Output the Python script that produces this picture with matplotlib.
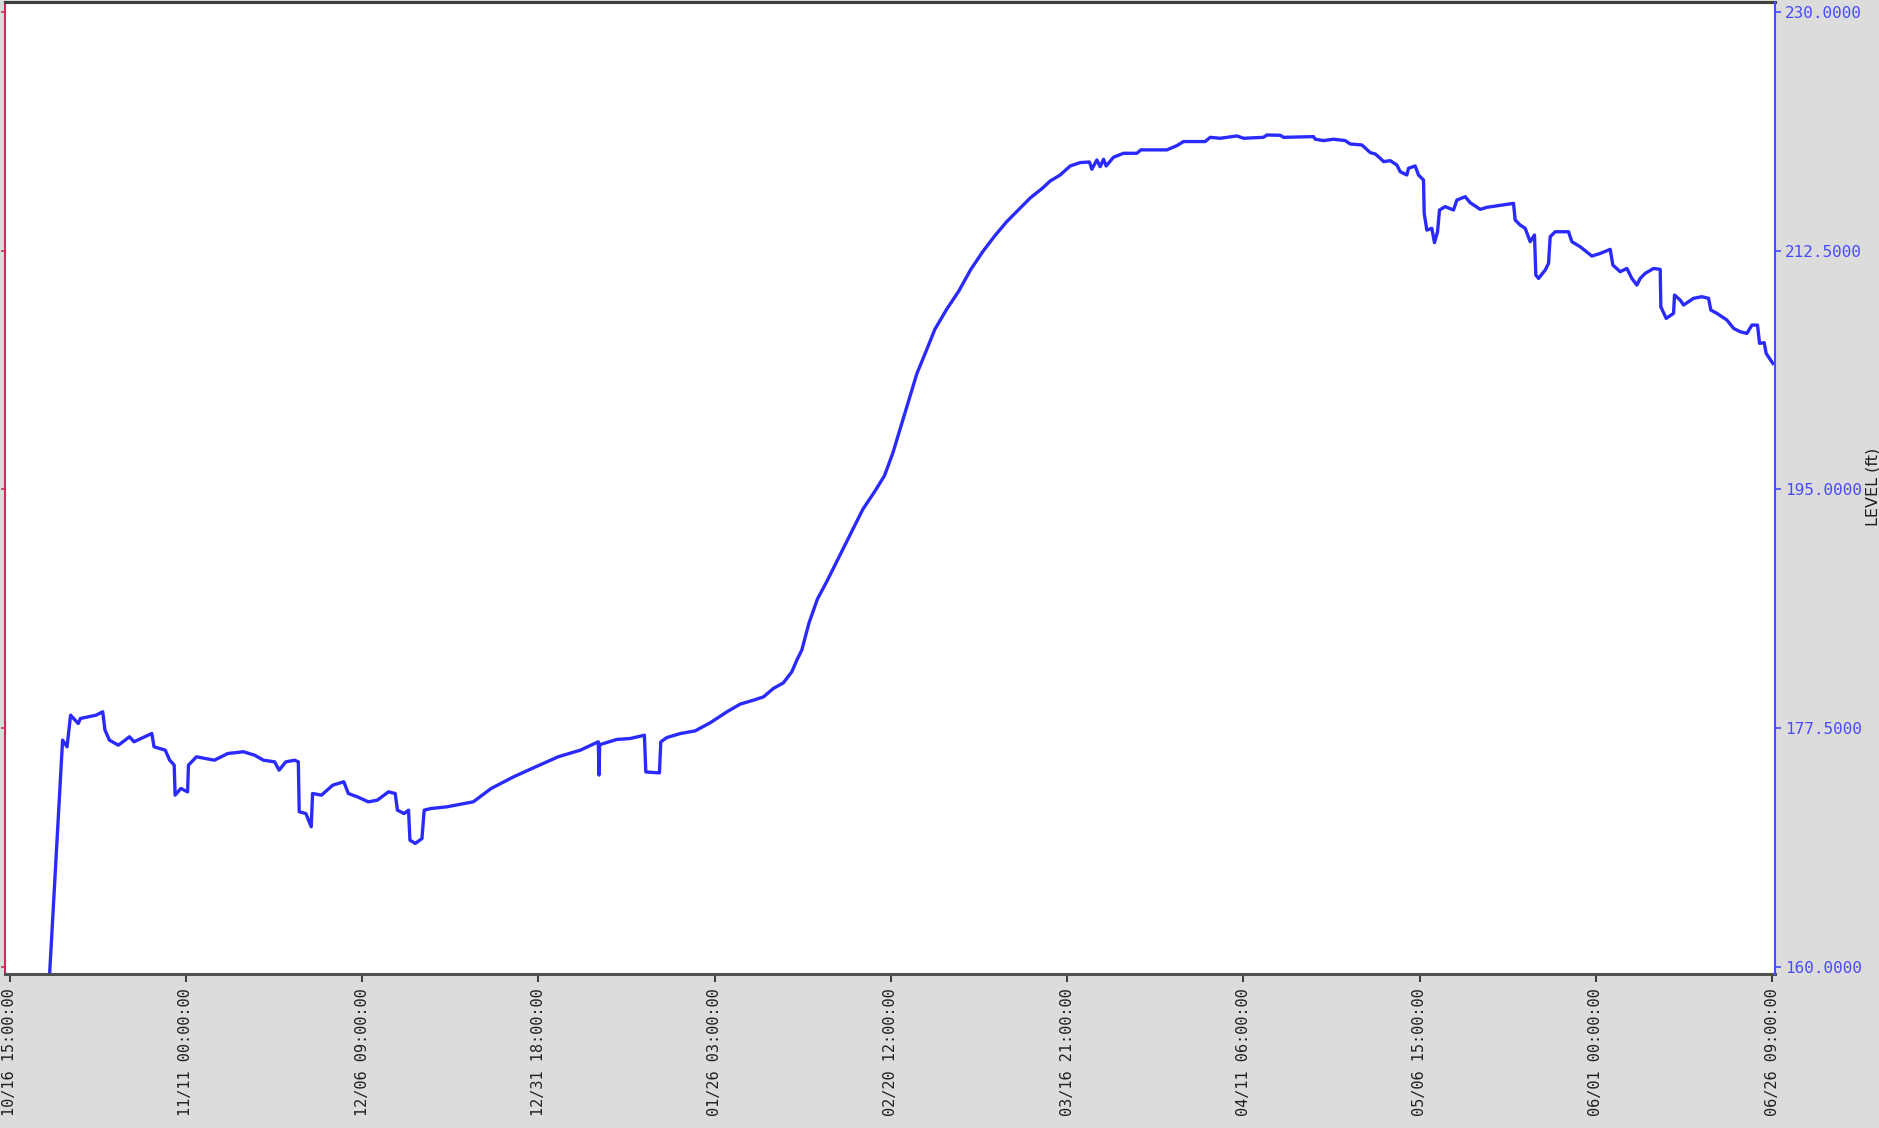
import pandas as pd
import matplotlib
matplotlib.use('Agg')
import matplotlib.pyplot as plt
import matplotlib.dates as mdates

# water level record, days counted from 10/16 15:00
start = pd.Timestamp('2019-10-16 15:00')
days = [5.70, 7.62, 8.26, 8.77, 9.87, 10.19, 12.44, 13.40, 13.72, 14.37, 15.65, 17.26, 17.90,
        20.47, 20.79, 22.40, 23.04, 23.69, 23.82, 24.65, 25.62, 25.74, 26.90, 29.47, 31.40,
        33.65, 35.26, 36.54, 38.15, 38.79, 39.76, 41.04, 41.56, 41.69, 42.65, 43.42, 43.61,
        44.90, 46.51, 48.11, 48.76, 50.04, 51.65, 52.93, 54.54, 55.51, 55.83, 56.79, 57.43,
        57.63, 58.40, 59.36, 59.68, 60.65, 62.90, 66.75, 69.33, 72.54, 75.75, 78.97, 82.18,
        84.75, 84.85, 84.95, 87.41, 89.33, 90.77, 91.39, 91.59, 93.55, 93.75, 94.61, 96.53,
        98.69, 100.85, 103.25, 105.17, 107.09, 108.53, 109.96, 111.40, 112.61, 113.33, 114.05,
        115.08, 116.29, 117.67, 119.39, 121.12, 122.84, 124.57, 125.95, 127.16, 128.36, 129.40,
        130.61, 131.81, 133.20, 134.92, 136.65, 138.37, 140.10, 141.82, 143.55, 145.27, 146.99,
        148.72, 149.81, 151.25, 152.69, 154.13, 155.47, 155.81, 156.53, 157.01, 157.49, 157.87,
        158.93, 160.37, 162.29, 162.86, 166.61, 168.05, 169.01, 172.13, 172.85, 174.29, 176.69,
        177.65, 180.53, 181.01, 182.93, 183.41, 187.73, 187.97, 189.17, 190.61, 192.29, 193.01,
        194.69, 195.89, 196.61, 197.33, 197.81, 198.77, 199.73, 200.20, 201.16, 201.40, 202.36,
        202.84, 203.56, 203.66, 204.04, 204.76, 205.14, 205.58, 205.86, 206.68, 207.88, 208.36,
        209.56, 210.28, 211.72, 212.68, 216.52, 216.76, 217.48, 218.20, 218.92, 219.54, 219.73,
        220.12, 221.08, 221.56, 221.80, 222.52, 224.44, 224.92, 226.12, 227.80, 229.00, 230.44,
        230.82, 231.88, 232.84, 233.56, 234.28, 234.76, 235.48, 236.68, 237.64, 237.73, 238.50,
        239.56, 239.70, 240.52, 241.00, 241.72, 242.44, 243.64, 244.60, 244.93, 245.80, 247.24,
        248.20, 249.16, 250.12, 250.84, 251.65, 251.94, 252.61, 252.90, 253.86]
level = [159.00, 176.63, 176.14, 178.46, 177.85, 178.22, 178.46, 178.71, 177.37, 176.63, 176.26,
         176.88, 176.51, 177.12, 176.14, 175.90, 175.16, 174.80, 172.60, 173.09, 172.84, 174.80,
         175.41, 175.16, 175.65, 175.78, 175.53, 175.16, 175.04, 174.43, 175.04, 175.16, 175.04,
         171.38, 171.25, 170.28, 172.72, 172.60, 173.33, 173.58, 172.72, 172.48, 172.11, 172.23,
         172.84, 172.72, 171.50, 171.25, 171.50, 169.30, 169.06, 169.42, 171.50, 171.62, 171.74,
         172.11, 173.09, 173.94, 174.68, 175.41, 175.90, 176.51, 174.07, 176.30, 176.68, 176.75,
         176.92, 176.99, 174.30, 174.23, 176.50, 176.82, 177.11, 177.31, 177.90, 178.70, 179.27,
         179.56, 179.80, 180.42, 180.83, 181.64, 182.49, 183.23, 185.21, 186.96, 188.28, 190.04,
         191.80, 193.55, 194.87, 196.01, 197.68, 199.70, 201.46, 203.48, 204.97, 206.73, 208.22,
         209.54, 211.12, 212.43, 213.58, 214.63, 215.51, 216.39, 217.09, 217.61, 218.05, 218.71,
         218.96, 219.00, 218.47, 219.15, 218.66, 219.20, 218.71, 219.35, 219.64, 219.64, 219.89,
         219.89, 220.20, 220.50, 220.50, 220.81, 220.74, 220.91, 220.74, 220.81, 220.98, 220.96,
         220.81, 220.86, 220.67, 220.57, 220.67, 220.57, 220.32, 220.25, 219.69, 219.59, 219.27,
         219.03, 219.10, 218.78, 218.29, 218.05, 218.54, 218.71, 218.05, 217.68, 215.24, 214.01,
         214.14, 213.09, 213.89, 215.48, 215.73, 215.48, 216.21, 216.46, 216.02, 215.53, 215.68,
         215.97, 214.75, 214.38, 214.14, 213.16, 213.65, 210.72, 210.47, 211.08, 211.57, 213.53,
         213.89, 213.89, 213.16, 212.79, 212.11, 212.30, 212.60, 211.45, 210.96, 211.20, 210.47,
         209.98, 210.47, 210.84, 211.20, 211.13, 208.39, 207.54, 207.91, 209.25, 208.88, 208.52,
         208.76, 209.01, 209.13, 209.01, 208.15, 207.91, 207.42, 206.81, 206.56, 206.44, 207.05,
         207.05, 205.71, 205.76, 204.97, 204.24]
yticks = [160.0, 177.5, 195.0, 212.5, 230.0]

times = start + pd.to_timedelta(days, unit='D')
step = pd.Timedelta(hours=609)
xticks = [start + k * step for k in range(11)]

fig = plt.figure(figsize=(18.79, 11.28), dpi=100, facecolor='#dcdcdc')
ax = fig.add_axes([0.0027, 0.1365, 0.942, 0.8614])
ax.set_facecolor('white')
ax.plot(times, level, color='#2a2aff', linewidth=2.4)

ax.set_xlim(start - pd.Timedelta(days=0.66), start + 10 * step + pd.Timedelta(days=0.43))
ax.set_ylim(159.49, 230.7)
ax.set_xticks(xticks)
ax.xaxis.set_major_formatter(mdates.DateFormatter('%m/%d %H:%M:%S'))
ax.tick_params(axis='x', direction='out', length=6, width=1.2, color='#202020',
               labelsize=11, labelrotation=90, pad=4, labelcolor='#202020')
for lab in ax.get_xticklabels():
    lab.set_family('DejaVu Sans Mono')

# left axis: crimson spine, ticks only
ax.set_yticks(yticks)
ax.tick_params(axis='y', direction='out', length=3, width=1.2, color='#d02a5a',
               labelleft=False)
ax.spines['left'].set_color('#d02a5a')
ax.spines['left'].set_linewidth(1.5)
ax.spines['top'].set_color('#404040')
ax.spines['top'].set_linewidth(2.2)
ax.spines['bottom'].set_color('#505050')
ax.spines['bottom'].set_linewidth(2.2)
ax.spines['right'].set_visible(False)

# right axis in blue with labels
ax2 = ax.twinx()
ax2.set_ylim(ax.get_ylim())
ax2.set_yticks(yticks)
ax2.set_yticklabels(['%.4f' % v for v in yticks], family='DejaVu Sans Mono')
ax2.tick_params(axis='y', direction='out', length=4, width=1.2, color='#4a4aff',
                labelcolor='#4a4aff', labelsize=11.5, pad=3)
for s in ['left', 'top', 'bottom']:
    ax2.spines[s].set_visible(False)
ax2.spines['right'].set_color('#4a4aff')
ax2.spines['right'].set_linewidth(1.5)

fig.text(0.9928, 0.568, 'LEVEL (ft)', rotation=90, va='center', ha='left',
         fontsize=11.5, color='#202020')

fig.savefig('out.png', dpi=100, facecolor=fig.get_facecolor())
